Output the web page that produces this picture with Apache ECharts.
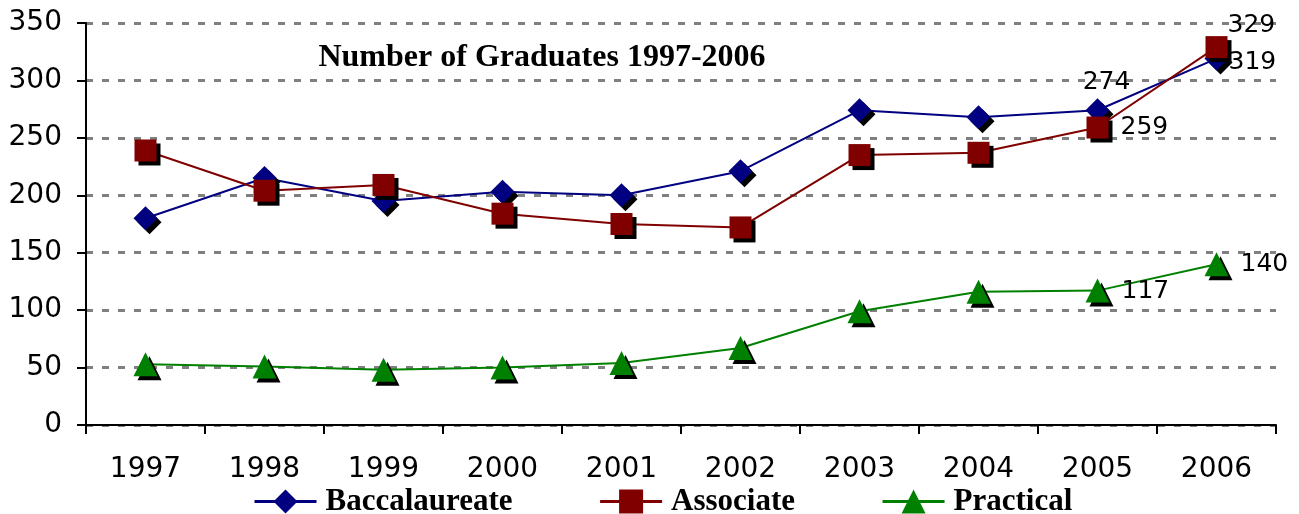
<!DOCTYPE html>
<html>
<head>
	<meta charset="utf-8">
	<title>Number of Graduates</title>
	<script src="https://cdn.jsdelivr.net/npm/echarts@6/dist/echarts.min.js"></script>
</head>
<body style="margin:0">
<div id="chart" style="width:1299px;height:514px"></div>
<script>
	const years = ['1997','1998','1999','2000','2001','2002','2003','2004','2005','2006'];
	const baccalaureate = [180, 215, 195, 203, 200, 221, 274, 268, 274, 319];
	const associate = [239, 204, 209, 184, 175, 172, 235, 237, 259, 329];
	const practical = [53, 51, 48, 50, 54, 67, 99, 116, 117, 140];

	// which points get a value label, and where it sits
	const labelAt = {
		Baccalaureate: {8: {position: 'top', offset: [9, 2]}, 9: {position: 'right', offset: [-5, 4]}},
		Associate: {8: {position: 'right', offset: [7, 0]}, 9: {position: 'right', offset: [-5, -22]}},
		Practical: {8: {position: 'right', offset: [7, 1]}, 9: {position: 'right', offset: [7, 0]}}
	};

	function build(name, values, color, symbol, size){
		return {
			name: name,
			type: 'line',
			symbol: symbol,
			symbolSize: size,
			data: values.map((v, i) => {
				const l = labelAt[name][i];
				if (!l) return v;
				return {value: v, label: Object.assign({show: true}, l)};
			}),
			lineStyle: {color: color, width: 2},
			itemStyle: {
				color: color,
				shadowColor: '#000',
				shadowOffsetX: 4,
				shadowOffsetY: 4,
				shadowBlur: 0
			},
			label: {
				show: false,
				color: '#000',
				fontFamily: 'DejaVu Sans',
				fontSize: 25
			},
			emphasis: {disabled: true},
			animation: false
		};
	}

	const chart = echarts.init(document.getElementById('chart'));
	chart.setOption({
		backgroundColor: '#fff',
		title: {
			text: 'Number of Graduates 1997-2006',
			left: 537,
			textAlign: 'center',
			top: 37,
			textStyle: {fontFamily: 'Liberation Serif', fontWeight: 'bold', fontSize: 32, color: '#000'}
		},
		legend: {
			top: 481,
			left: 248,
			itemWidth: 62,
			itemHeight: 30,
			itemGap: 86,
			lineStyle: {width: 3},
			itemStyle: {shadowColor: 'transparent', shadowOffsetX: 0, shadowOffsetY: 0},
			textStyle: {fontFamily: 'Liberation Serif', fontWeight: 'bold', fontSize: 31, color: '#000', padding: [0, 0, 0, 4]},
			data: ['Baccalaureate', 'Associate', 'Practical']
		},
		grid: {left: 86, right: 23, top: 23, bottom: 89},
		xAxis: {
			type: 'category',
			data: years,
			boundaryGap: true,
			axisLine: {lineStyle: {color: '#000', width: 2}},
			axisTick: {show: true, length: 9, lineStyle: {color: '#000', width: 2}},
			axisLabel: {fontFamily: 'DejaVu Sans', fontSize: 28, color: '#000', margin: 31}
		},
		yAxis: {
			type: 'value',
			min: 0,
			max: 350,
			interval: 50,
			axisLine: {show: true, lineStyle: {color: '#000', width: 2}},
			axisTick: {show: true, length: 9, lineStyle: {color: '#000', width: 2}},
			axisLabel: {fontFamily: 'DejaVu Sans', fontSize: 28, color: '#000', margin: 24},
			splitLine: {lineStyle: {color: '#808080', width: 3, type: [7, 9]}}
		},
		series: [
			build('Baccalaureate', baccalaureate, '#000080', 'diamond', 24),
			build('Associate', associate, '#800000', 'rect', 22),
			build('Practical', practical, '#008000', 'triangle', 24)
		]
	});
</script>
</body>
</html>
